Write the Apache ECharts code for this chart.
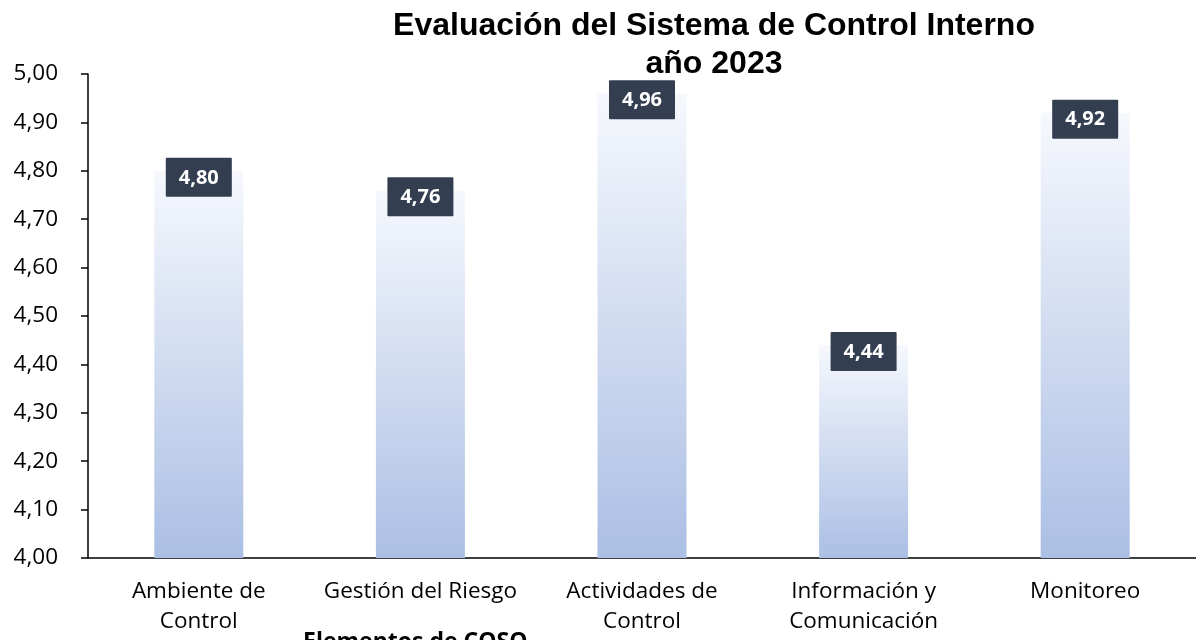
<!DOCTYPE html>
<html><head><meta charset="utf-8">
<script src="https://cdn.jsdelivr.net/npm/echarts@6/dist/echarts.min.js"></script>
<style>html,body{margin:0;padding:0;background:#fff}#c{width:1196px;height:640px}</style>
</head><body><div id="c"></div>
<script>
const categories = ['Ambiente de\nControl', 'Gestión del Riesgo', 'Actividades de\nControl', 'Información y\nComunicación', 'Monitoreo'];
const values = [4.80, 4.76, 4.96, 4.44, 4.92];
const titleLines = 'Evaluación del Sistema de Control Interno\naño 2023';
const axisTitle = 'Elementos de COSO';

const chart = echarts.init(document.getElementById('c'));
chart.setOption({
  animation: false,
  title: {
    text: titleLines,
    left: 709, top: 2, textAlign: 'center',
    textStyle: { fontFamily: 'Liberation Sans', fontWeight: 'bold', fontSize: 32, color: '#000', lineHeight: 38 }
  },
  grid: { left: 88, right: 0, top: 74, bottom: 82 },
  xAxis: {
    type: 'category', data: categories,
    axisLine: { lineStyle: { color: '#000', width: 1.5 } },
    axisTick: { show: false },
    axisLabel: { color: '#000', fontFamily: 'Open Sans', fontSize: 22.5, lineHeight: 30, margin: 19, interval: 0 }
  },
  yAxis: {
    type: 'value', min: 4.0, max: 5.0, interval: 0.1,
    axisLine: { show: true, lineStyle: { color: '#000', width: 1.5 } },
    axisTick: { show: true, length: 7, lineStyle: { color: '#000', width: 1.5 } },
    splitLine: { show: false },
    axisLabel: { color: '#000', fontFamily: 'Open Sans', fontSize: 22.5, margin: 30,
      formatter: v => v.toFixed(2).replace('.', ',') }
  },
  series: [{
    type: 'bar', data: values, barWidth: 89,
    itemStyle: {
      color: new echarts.graphic.LinearGradient(0, 0, 0, 1, [
        { offset: 0, color: '#f6f8fd' }, { offset: 1, color: '#abbfe4' }
      ])
    },
    label: {
      show: true, position: ['50%', -13], align: 'center', verticalAlign: 'top',
      formatter: p => p.value.toFixed(2).replace('.', ','),
      backgroundColor: '#333f50', color: '#fff', fontFamily: 'Open Sans', fontWeight: 'bold',
      fontSize: 20, lineHeight: 24, padding: [8, 13, 7, 13], borderRadius: 1
    }
  }],
  graphic: [{
    type: 'text', left: 303, top: 631,
    style: { text: axisTitle, font: 'bold 23px "Open Sans"', fill: '#000' }
  }]
});
</script></body></html>
